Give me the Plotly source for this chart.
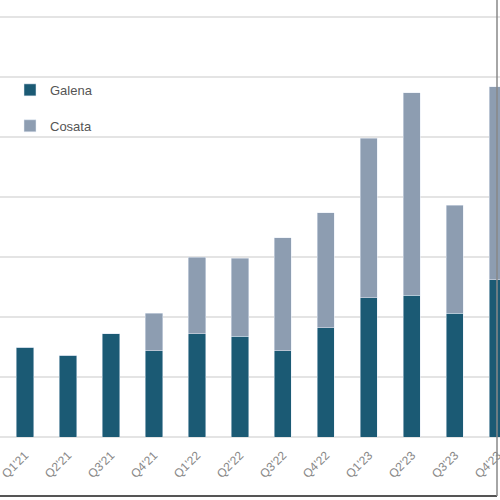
import plotly.graph_objects as go

# quarters shown along the bottom
quarters = ["Q1'21", "Q2'21", "Q3'21", "Q4'21",
            "Q1'22", "Q2'22", "Q3'22", "Q4'22",
            "Q1'23", "Q2'23", "Q3'23", "Q4'23"]

# stacked series
galena = [75, 68, 86, 72, 86, 84, 72, 91, 116, 118, 103, 131]
cosata = [0, 0, 0, 31, 64, 65, 94, 96, 133, 169, 90, 161]


def main():
    fig = go.Figure()
    fig.add_trace(go.Bar(x=quarters, y=galena, name="Galena",
                         marker_color="#1b5a74", legendgroup="a"))
    fig.add_trace(go.Bar(x=quarters, y=cosata, name="Cosata",
                         marker_color="#8d9db1", legendgroup="b"))

    fig.update_layout(
        width=500, height=500,
        barmode="stack", bargap=0.6,
        plot_bgcolor="white", paper_bgcolor="white",
        margin=dict(l=0, r=0, t=15, b=63, autoexpand=False),
        font=dict(family="Arial, Liberation Sans, sans-serif", color="#666"),
        legend=dict(x=0.02, y=0.858, xanchor="left", yanchor="top",
                    traceorder="grouped", tracegroupgap=16,
                    font=dict(size=13, color="#555"),
                    bgcolor="rgba(0,0,0,0)"),
    )
    fig.update_xaxes(range=[-0.58, 11.05], tickangle=-45, automargin=False,
                     tickfont=dict(size=12, color="#888"),
                     ticklabelstandoff=8,
                     showgrid=False, showline=False, ticks="")
    fig.update_yaxes(range=[0, 351.7], dtick=50, showticklabels=False,
                     automargin=False,
                     gridcolor="#e4e4e4", gridwidth=1.5,
                     zeroline=True, zerolinecolor="#e4e4e4", zerolinewidth=1.5)

    # frame lines along the bottom and right edge of the picture
    fig.add_shape(type="line", xref="paper", yref="paper",
                  x0=0, x1=0.994, y0=-0.14, y1=-0.14,
                  line=dict(color="#555", width=2))
    fig.add_shape(type="line", xref="paper", yref="paper",
                  x0=0.994, x1=0.994, y0=-0.14, y1=1.04,
                  line=dict(color="#888", width=1.5))

    # drop the page margin so the figure sits at the window corner
    fig.write_html("out.html", config={"displayModeBar": False},
                   post_script="document.body.style.margin='0';")


if __name__ == '__main__':
    main()
